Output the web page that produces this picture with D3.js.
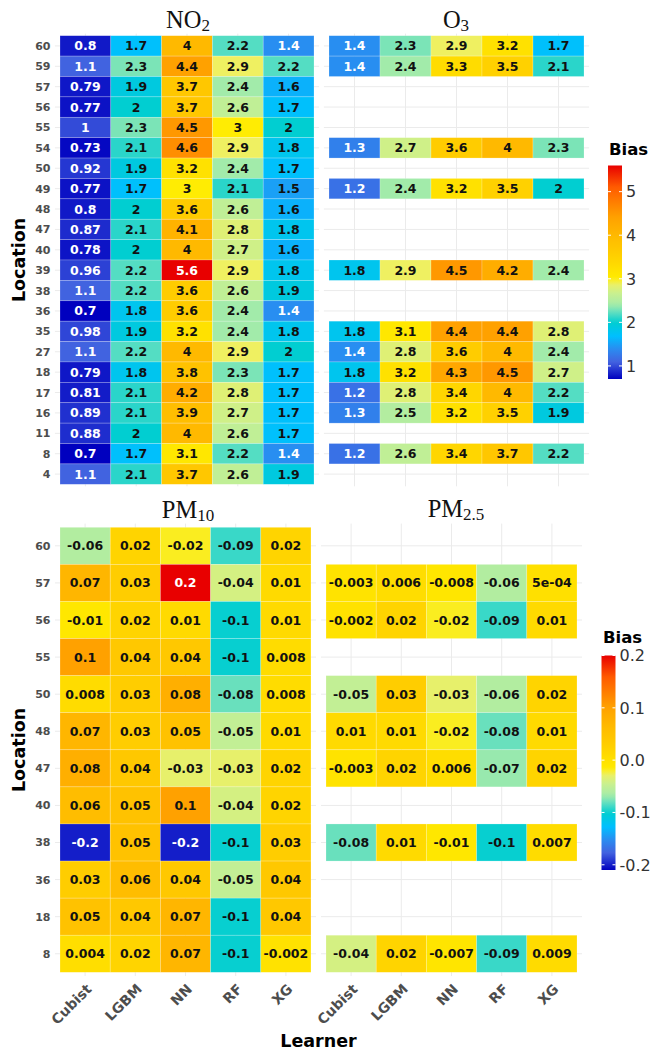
<!DOCTYPE html>
<html>
<head>
<meta charset="utf-8">
<script src="https://cdn.jsdelivr.net/npm/d3@7"></script>
<style>
  body { margin: 0; background: #fff; }
  svg { display: block; }
</style>
</head>
<body>
<svg id="chart" width="653" height="1054"></svg>
<script>
// ---- data -------------------------------------------------------------
const learners = ["Cubist", "LGBM", "NN", "RF", "XG"];

const gasLocations = ["60","59","57","56","55","54","50","49","48","47","40",
                      "39","38","36","35","27","18","17","16","11","8","4"];

// NO2 bias, one row per location, columns in learner order
const no2Bias = [
  [0.8, 1.7, 4, 2.2, 1.4],
  [1.1, 2.3, 4.4, 2.9, 2.2],
  [0.79, 1.9, 3.7, 2.4, 1.6],
  [0.77, 2, 3.7, 2.6, 1.7],
  [1, 2.3, 4.5, 3, 2],
  [0.73, 2.1, 4.6, 2.9, 1.8],
  [0.92, 1.9, 3.2, 2.4, 1.7],
  [0.77, 1.7, 3, 2.1, 1.5],
  [0.8, 2, 3.6, 2.6, 1.6],
  [0.87, 2.1, 4.1, 2.8, 1.8],
  [0.78, 2, 4, 2.7, 1.6],
  [0.96, 2.2, 5.6, 2.9, 1.8],
  [1.1, 2.2, 3.6, 2.6, 1.9],
  [0.7, 1.8, 3.6, 2.4, 1.4],
  [0.98, 1.9, 3.2, 2.4, 1.8],
  [1.1, 2.2, 4, 2.9, 2],
  [0.79, 1.8, 3.8, 2.3, 1.7],
  [0.81, 2.1, 4.2, 2.8, 1.7],
  [0.89, 2.1, 3.9, 2.7, 1.7],
  [0.88, 2, 4, 2.6, 1.7],
  [0.7, 1.7, 3.1, 2.2, 1.4],
  [1.1, 2.1, 3.7, 2.6, 1.9]
];

const o3Locations = ["60","59","54","49","39","35","27","18","17","16","8"];
const o3Bias = [
  [1.4, 2.3, 2.9, 3.2, 1.7],
  [1.4, 2.4, 3.3, 3.5, 2.1],
  [1.3, 2.7, 3.6, 4, 2.3],
  [1.2, 2.4, 3.2, 3.5, 2],
  [1.8, 2.9, 4.5, 4.2, 2.4],
  [1.8, 3.1, 4.4, 4.4, 2.8],
  [1.4, 2.8, 3.6, 4, 2.4],
  [1.8, 3.2, 4.3, 4.5, 2.7],
  [1.2, 2.8, 3.4, 4, 2.2],
  [1.3, 2.5, 3.2, 3.5, 1.9],
  [1.2, 2.6, 3.4, 3.7, 2.2]
];

const pmLocations = ["60","57","56","55","50","48","47","40","38","36","18","8"];
const pm10Bias = [
  [-0.06, 0.02, -0.02, -0.09, 0.02],
  [0.07, 0.03, 0.2, -0.04, 0.01],
  [-0.01, 0.02, 0.01, -0.1, 0.01],
  [0.1, 0.04, 0.04, -0.1, 0.008],
  [0.008, 0.03, 0.08, -0.08, 0.008],
  [0.07, 0.03, 0.05, -0.05, 0.01],
  [0.08, 0.04, -0.03, -0.03, 0.02],
  [0.06, 0.05, 0.1, -0.04, 0.02],
  [-0.2, 0.05, -0.2, -0.1, 0.03],
  [0.03, 0.06, 0.04, -0.05, 0.04],
  [0.05, 0.04, 0.07, -0.1, 0.04],
  [0.004, 0.02, 0.07, -0.1, -0.002]
];

const pm25Locations = ["57","56","50","48","47","38","8"];
const pm25Bias = [
  [-0.003, 0.006, -0.008, -0.06, 0.0005],
  [-0.002, 0.02, -0.02, -0.09, 0.01],
  [-0.05, 0.03, -0.03, -0.06, 0.02],
  [0.01, 0.01, -0.02, -0.08, 0.01],
  [-0.003, 0.02, 0.006, -0.07, 0.02],
  [-0.08, 0.01, -0.01, -0.1, 0.007],
  [-0.04, 0.02, -0.007, -0.09, 0.009]
];

const gasLimits = [0.7, 5.6];
const pmLimits = [-0.21, 0.2];
const gasLegendTicks = [1, 2, 3, 4, 5];
const pmLegendTicks = [-0.2, -0.1, 0, 0.1, 0.2];

// shared fill palette (position 0..1 -> colour)
const paletteStops  = [0, 0.08, 0.14, 0.2, 0.265, 0.31, 0.35, 0.4, 0.45, 0.47, 0.59, 0.67, 0.76, 0.8, 0.9, 1];
const paletteColors = ["#0000bf", "#4262e0", "#2a8cf0", "#00bfff", "#00ced1", "#5cdec2", "#a8eca8",
                       "#c8f090", "#f0f060", "#ffec00", "#ffcc00", "#ffba00", "#ffa000", "#ff8c00",
                       "#ff5a00", "#e80000"];

// ---- helpers ------------------------------------------------------------
const palette = d3.scaleLinear().domain(paletteStops).range(paletteColors)
  .interpolate(d3.interpolateRgb).clamp(true);

function fillScale(limits) {
  const t = d3.scaleLinear().domain(limits).range([0, 1]).clamp(true);
  return v => palette(t(v));
}

// significant-digit label, switching to R-style exponent when shorter
function sigLabel(v, digits) {
  const n = +(+v).toPrecision(digits);
  const fixed = String(n);
  const sci = n.toExponential().replace(/e([+-])(\d)$/, "e$10$2");
  return sci.length < fixed.length ? sci : fixed;
}

function textColour(fill) {
  const c = d3.rgb(fill);
  const lin = x => { x /= 255; return x <= 0.03928 ? x / 12.92 : Math.pow((x + 0.055) / 1.055, 2.4); };
  const L = 0.2126 * lin(c.r) + 0.7152 * lin(c.g) + 0.0722 * lin(c.b);
  return L < 0.285 ? "#ffffff" : "#111111";
}

const svg = d3.select("#chart");
svg.append("rect").attr("width", 653).attr("height", 1054).attr("fill", "#fff");

const SANS = "DejaVu Sans, Verdana, sans-serif";
const SERIF = "Liberation Serif, Times New Roman, serif";

function drawPanel(opt) {
  const g = svg.append("g");
  const x = d3.scaleBand().domain(learners).range(opt.xRange);
  const y = opt.y;
  const fill = opt.fill;
  const px0 = opt.xRange[0] - 0.1 * x.step(), px1 = opt.xRange[1] + 0.1 * x.step();
  const yr = y.range();
  const py0 = yr[0] - 0.1 * y.step(), py1 = yr[1] + 0.1 * y.step();

  // grid
  g.append("g").selectAll("line").data(y.domain()).join("line")
    .attr("x1", px0).attr("x2", px1)
    .attr("y1", d => y(d) + y.bandwidth() / 2).attr("y2", d => y(d) + y.bandwidth() / 2)
    .attr("stroke", "#ebebeb").attr("stroke-width", 1);
  g.append("g").selectAll("line").data(learners).join("line")
    .attr("y1", py0).attr("y2", py1)
    .attr("x1", d => x(d) + x.bandwidth() / 2).attr("x2", d => x(d) + x.bandwidth() / 2)
    .attr("stroke", "#ebebeb").attr("stroke-width", 1);

  // tiles
  const cells = [];
  opt.locations.forEach((loc, i) => learners.forEach((l, j) =>
    cells.push({ loc, learner: l, value: opt.values[i][j] })));

  g.append("g").selectAll("rect").data(cells).join("rect")
    .attr("x", d => x(d.learner)).attr("y", d => y(d.loc))
    .attr("width", x.bandwidth()).attr("height", y.bandwidth())
    .attr("fill", d => fill(d.value))
    .attr("stroke", "rgba(255,255,255,0.35)").attr("stroke-width", 0.6);

  g.append("g").selectAll("text").data(cells).join("text")
    .attr("x", d => x(d.learner) + x.bandwidth() / 2)
    .attr("y", d => y(d.loc) + y.bandwidth() / 2)
    .attr("dy", "0.36em")
    .attr("text-anchor", "middle")
    .attr("font-family", SANS).attr("font-weight", "bold").attr("font-size", 12.5)
    .attr("fill", d => textColour(fill(d.value)))
    .text(d => sigLabel(d.value, opt.digits));

  // title with subscript
  const t = g.append("text")
    .attr("x", opt.titleX).attr("y", opt.titleY)
    .attr("text-anchor", "middle")
    .attr("font-family", SERIF).attr("font-size", 24.5).attr("fill", "#111");
  t.append("tspan").text(opt.title[0]);
  t.append("tspan").attr("font-size", 17).attr("dy", 3).text(opt.title[1]);

  if (opt.showY) {
    g.append("g").selectAll("text").data(y.domain()).join("text")
      .attr("x", 50.5).attr("y", d => y(d) + y.bandwidth() / 2).attr("dy", "0.36em")
      .attr("text-anchor", "end")
      .attr("font-family", SANS).attr("font-weight", "bold").attr("font-size", 11)
      .attr("fill", "#4d4d4d").text(d => d);
  }
  if (opt.showX) {
    g.append("g").selectAll("text").data(learners).join("text")
      .attr("transform", d => `translate(${x(d) + x.bandwidth() / 2 + 7.5},${py1 + 14}) rotate(-45)`)
      .attr("text-anchor", "end")
      .attr("font-family", SANS).attr("font-weight", "bold").attr("font-size", 14)
      .attr("fill", "#4d4d4d").text(d => d);
  }
}

function drawLegend(opt) {
  const g = svg.append("g");
  const s = d3.scaleLinear().domain(opt.limits).range(opt.yRange);
  const id = opt.id;
  const grad = svg.append("defs").append("linearGradient").attr("id", id)
    .attr("x1", 0).attr("y1", 1).attr("x2", 0).attr("y2", 0);
  d3.range(0, 1.0001, 0.02).forEach(t =>
    grad.append("stop").attr("offset", t).attr("stop-color", palette(t)));

  g.append("text").attr("x", opt.x + opt.titleDx).attr("y", opt.yRange[1] - opt.titleGap)
    .attr("font-family", SANS).attr("font-weight", "bold").attr("font-size", 16.5)
    .attr("fill", "#000").text("Bias");

  g.append("rect").attr("x", opt.x).attr("y", opt.yRange[1])
    .attr("width", 14).attr("height", opt.yRange[0] - opt.yRange[1])
    .attr("fill", `url(#${id})`);

  opt.ticks.forEach(v => {
    const yy = s(v);
    g.append("line").attr("x1", opt.x).attr("x2", opt.x + 3).attr("y1", yy).attr("y2", yy)
      .attr("stroke", "#fff").attr("stroke-width", 1);
    g.append("line").attr("x1", opt.x + 11).attr("x2", opt.x + 14).attr("y1", yy).attr("y2", yy)
      .attr("stroke", "#fff").attr("stroke-width", 1);
    g.append("text").attr("x", opt.x + 18).attr("y", yy).attr("dy", "0.36em")
      .attr("font-family", SANS).attr("font-size", 16).attr("fill", "#333")
      .text(opt.format(v).replace("\u2212", "-"));
  });
}

// ---- layout -------------------------------------------------------------
const yGas = d3.scaleBand().domain(gasLocations).range([35.7, 484.3]);
const yPm  = d3.scaleBand().domain(pmLocations).range([527.3, 972.3]);

const gasFill = fillScale(gasLimits);
const pmFill  = fillScale(pmLimits);

drawPanel({ locations: gasLocations, values: no2Bias, xRange: [60, 314], y: yGas, fill: gasFill,
  digits: 2, showY: true, showX: false, title: ["NO", "2"], titleX: 188, titleY: 28 });
drawPanel({ locations: o3Locations, values: o3Bias, xRange: [329, 584], y: yGas, fill: gasFill,
  digits: 2, showY: false, showX: false, title: ["O", "3"], titleX: 456, titleY: 28 });
drawPanel({ locations: pmLocations, values: pm10Bias, xRange: [60, 311], y: yPm, fill: pmFill,
  digits: 1, showY: true, showX: true, title: ["PM", "10"], titleX: 188, titleY: 518 });
drawPanel({ locations: pm25Locations, values: pm25Bias, xRange: [326, 577], y: yPm, fill: pmFill,
  digits: 1, showY: false, showX: true, title: ["PM", "2.5"], titleX: 456, titleY: 517 });

drawLegend({ id: "gasBar", limits: gasLimits, yRange: [379, 165.5], x: 608, titleDx: 1, titleGap: 11,
  ticks: gasLegendTicks, format: d3.format("d") });
drawLegend({ id: "pmBar", limits: pmLimits, yRange: [870, 655.5], x: 601.5, titleDx: 1.5, titleGap: 13,
  ticks: pmLegendTicks, format: d3.format(".1f") });

// axis titles
[260, 750].forEach(cy => {
  svg.append("text").attr("transform", `translate(24.5,${cy}) rotate(-90)`)
    .attr("text-anchor", "middle")
    .attr("font-family", SANS).attr("font-weight", "bold").attr("font-size", 17.5)
    .attr("fill", "#000").text("Location");
});
svg.append("text").attr("x", 318.5).attr("y", 1047).attr("text-anchor", "middle")
  .attr("font-family", SANS).attr("font-weight", "bold").attr("font-size", 17.5)
  .attr("fill", "#000").text("Learner");
</script>
</body>
</html>
